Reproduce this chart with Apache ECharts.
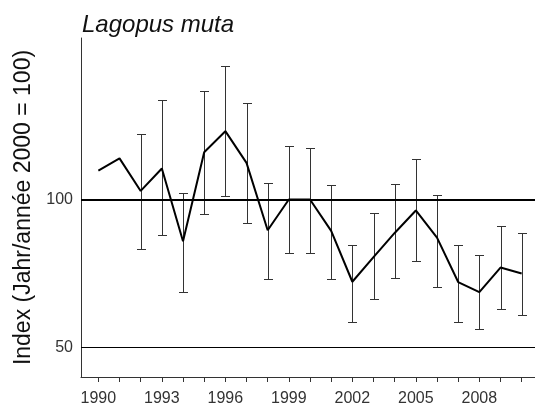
<!DOCTYPE html>
<html>
<head>
<meta charset="utf-8">
<script src="https://cdn.jsdelivr.net/npm/echarts@6/dist/echarts.min.js"></script>
<style>
html,body{margin:0;padding:0;background:#fff;}
#chart{width:535px;height:407px;}
</style>
</head>
<body>
<div id="chart"></div>
<script>
const titleText = 'Lagopus muta';
const yAxisTitle = 'Index (Jahr/année 2000 = 100)';
const years = [1990,1991,1992,1993,1994,1995,1996,1997,1998,1999,2000,2001,2002,2003,2004,2005,2006,2007,2008,2009,2010];
const indexValues = [109.8,113.9,102.9,110.5,85.9,116.0,123.1,112.4,89.6,100,100,89.4,72.2,80.5,88.7,96.3,87.1,72.1,68.7,77.0,75.0];
const upperValues = [null,null,122.1,133.8,102.3,136.7,145.3,132.7,105.6,118.1,117.3,104.8,84.7,95.5,105.3,113.6,101.6,84.7,81.1,91.0,88.7];
const lowerValues = [null,null,83.3,87.9,68.6,95.0,101.2,92.1,73.2,81.8,81.8,73.2,58.7,66.4,73.4,79.3,70.5,58.7,56.3,63.1,61.0];
const xTickLabels = [1990,1993,1996,1999,2002,2005,2008];
const yTickLabels = [50,100];
const refLines = [100,50];

const lineData = years.map((y,i)=>[y,indexValues[i]]);
const errData = [];
years.forEach((y,i)=>{ if(upperValues[i]!=null) errData.push([y,lowerValues[i],upperValues[i]]); });

const chart = echarts.init(document.getElementById('chart'));
chart.setOption({
  animation:false,
  backgroundColor:'#fff',
  textStyle:{fontFamily:'Liberation Sans, Arial, sans-serif'},
  title:{
    text:titleText, left:77, top:8,
    textStyle:{fontFamily:'Liberation Sans, Arial, sans-serif', fontStyle:'italic', fontWeight:'normal', fontSize:24, color:'#111'}
  },
  grid:{left:81, right:0, top:38, bottom:29.3, containLabel:false},
  xAxis:{
    type:'value', min:1989.18, max:2010.63,
    axisLine:{show:true, lineStyle:{color:'#333', width:1}},
    axisTick:{show:true, length:5, lineStyle:{color:'#333'}, customValues:years},
    axisLabel:{customValues:xTickLabels, fontSize:16, color:'#333', margin:14, formatter:v=>String(v)},
    splitLine:{show:false}
  },
  yAxis:{
    type:'value', min:40, max:154.6, interval:10,
    name:yAxisTitle, nameLocation:'middle', nameGap:46,
    nameTextStyle:{fontSize:23, color:'#111'},
    axisLine:{show:true, lineStyle:{color:'#333', width:1}},
    axisTick:{show:false},
    axisLabel:{fontSize:16, color:'#333', margin:8, padding:[4,0,0,0],
      formatter:v=> yTickLabels.indexOf(v)>=0 ? String(v) : ''},
    splitLine:{show:false}
  },
  series:[
    {
      type:'custom',
      data:errData,
      z:2,
      renderItem:function(params, api){
        const x = api.value(0);
        const lo = api.coord([x, api.value(1)]);
        const hi = api.coord([x, api.value(2)]);
        const cx = Math.round(lo[0])+0.5;
        const w = 4.5;
        const st = {stroke:'#333', lineWidth:1};
        return {type:'group', children:[
          {type:'line', shape:{x1:cx,y1:Math.round(hi[1])+0.5,x2:cx,y2:Math.round(lo[1])+0.5}, style:st},
          {type:'line', shape:{x1:cx-w,y1:Math.round(hi[1])+0.5,x2:cx+w,y2:Math.round(hi[1])+0.5}, style:st},
          {type:'line', shape:{x1:cx-w,y1:Math.round(lo[1])+0.5,x2:cx+w,y2:Math.round(lo[1])+0.5}, style:st}
        ]};
      }
    },
    {
      type:'line',
      data:lineData,
      z:3,
      showSymbol:false, symbol:'none',
      lineStyle:{color:'#000', width:2},
      markLine:{
        silent:true, symbol:'none', label:{show:false},
        data:[
          {yAxis:refLines[0], lineStyle:{color:'#000', width:2, type:'solid'}},
          {yAxis:refLines[1], lineStyle:{color:'#000', width:1.2, type:'solid'}}
        ]
      }
    }
  ]
});
</script>
</body>
</html>
